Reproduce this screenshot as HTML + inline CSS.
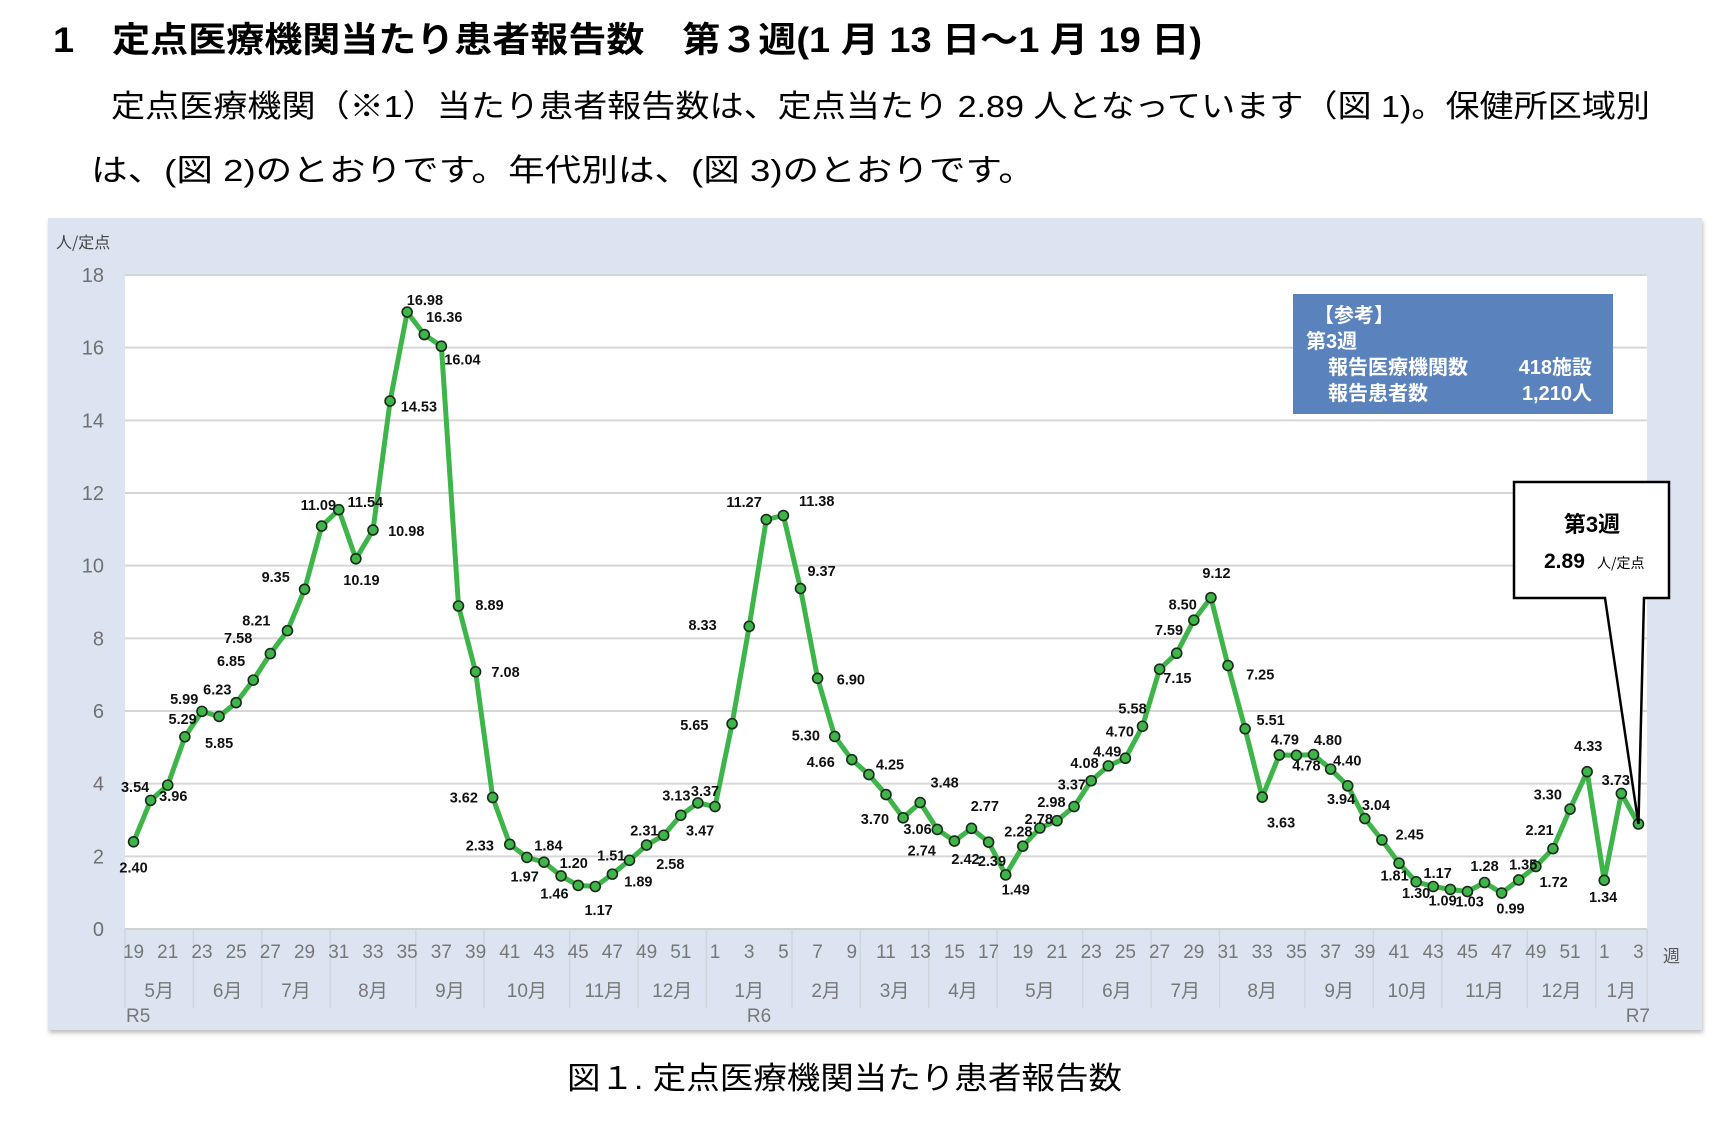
<!DOCTYPE html>
<html><head><meta charset="utf-8">
<style>
html,body{margin:0;padding:0;background:#fff;width:1736px;height:1126px;overflow:hidden;}
body{font-family:"Liberation Sans","Noto Sans CJK JP",sans-serif;}
</style></head><body>
<svg id="c" width="1736" height="1126" style="position:absolute;left:0;top:0" xmlns="http://www.w3.org/2000/svg"></svg>
<script>
var vals=[[2.40,0,23],[3.54,-14,-12],[3.96,5,10],[5.29,-2,-16],[5.99,-16,-11],[5.85,0,24],[6.23,-17,-12],[6.85,-20,-17],[7.58,-29,-14],[8.21,-28,-9],[9.35,-26,-11],[11.09,-3,-19],[11.54,24,-7],[10.19,5,19],[10.98,30,1],[14.53,26,5],[16.98,16,-11],[16.36,18,-16],[16.04,19,12],[8.89,28,-1],[7.08,27,0],[3.62,-26,0],[2.33,-27,1],[1.97,-2,17],[1.84,4,-15],[1.46,-6,16],[1.20,-4,-20],[1.17,3,21],[1.51,-1,-17],[1.89,8,19],[2.31,-2,-13],[2.58,6,26],[3.13,-4,-18],[3.47,2,25],
[3.37,-9,-14],[5.65,-34,1],[8.33,-42,-1],[11.27,-20,-16],[11.38,30,-13],[9.37,19,-16],[6.90,30,1],[5.30,-26,-1],[4.66,-28,2],[4.25,19,-9],[3.70,-10,22],[3.06,13,10],[3.48,22,-18],[2.74,-14,19],[2.42,10,16],[2.77,12,-20],[2.39,3,17],[1.49,9,13],[2.28,-4,-13],[2.78,-1,-8],[2.98,-5,-17],[3.37,-2,-20],[4.08,-6,-16],[4.49,-1,-13],[4.70,-5,-24],[5.58,-9,-16],[7.15,16,8],[7.59,-7,-21],[8.50,-10,-14],[9.12,5,-22],[7.25,29,8],[5.51,23,-8],[3.63,17,23],[4.79,5,-14],[4.78,9,9],[4.80,13,-13],[4.40,15,-8],[3.94,-6,12],[3.04,10,-12],[2.45,25,-5],[1.81,-4,11],[1.30,0,10],[1.17,4,-12],[1.09,-7,10],[1.03,2,9],[1.28,0,-15],[0.99,8,14],[1.35,4,-14],[1.72,16,14],[2.21,-12,-17],[3.30,-20,-13],[4.33,1,-23],
[1.34,-1,15],[3.73,-5,-12],[2.89,null,null]];
var L=125,R=1647,T=275,B=929,N=89,W=(R-L)/N;
function X(i){return L+W*(i+0.5);}function Y(v){return B-(B-T)*v/18;}
var J='font-family="Liberation Sans,Noto Sans CJK JP,sans-serif"';
var s='';
s+='<text x="53" y="52" font-size="35" font-weight="bold" '+J+' textLength="1149" lengthAdjust="spacingAndGlyphs">1　定点医療機関当たり患者報告数　第３週(1 月 13 日～1 月 19 日)</text>';
s+='<text x="111" y="117" font-size="31" '+J+' textLength="1539" lengthAdjust="spacingAndGlyphs">定点医療機関（※1）当たり患者報告数は、定点当たり 2.89 人となっています（図 1)。保健所区域別</text>';
s+='<text x="91" y="181" font-size="31" '+J+' textLength="944" lengthAdjust="spacingAndGlyphs">は、(図 2)のとおりです。年代別は、(図 3)のとおりです。</text>';
s+='<text x="567" y="1089" font-size="31" '+J+' textLength="555" lengthAdjust="spacingAndGlyphs">図１. 定点医療機関当たり患者報告数</text>';
s+='<defs><filter id="sh" x="-2%" y="-2%" width="104%" height="106%"><feDropShadow dx="1" dy="3" stdDeviation="2" flood-color="#000" flood-opacity="0.25"/></filter></defs>';
s+='<rect x="48" y="218" width="1654" height="812" fill="#dde4f1" filter="url(#sh)"/>';
s+='<rect x="'+L+'" y="'+T+'" width="'+(R-L)+'" height="'+(B-T)+'" fill="#fff"/>';
for(var g=0;g<=18;g+=2){var y=Y(g);s+='<line x1="'+L+'" x2="'+R+'" y1="'+y+'" y2="'+y+'" stroke="#d6d6d6" stroke-width="2"/>';
s+='<text x="104" y="'+(y+7)+'" font-size="20" fill="#707070" text-anchor="end">'+g+'</text>';}
s+='<text x="56" y="248" font-size="16" fill="#444" font-family="Noto Sans CJK JP,sans-serif">人/定点</text>';
var seps=[0,4,8,12,17,21,26,30,34,39,43,47,51,56,60,64,69,73,77,82,86,89];
var mons=['5月','6月','7月','8月','9月','10月','11月','12月','1月','2月','3月','4月','5月','6月','7月','8月','9月','10月','11月','12月','1月'];
for(var k=0;k<seps.length;k++){var x=L+W*seps[k];s+='<line x1="'+x+'" x2="'+x+'" y1="'+B+'" y2="1008" stroke="#d0d4dc" stroke-width="1.5"/>';
if(k<mons.length){var cx=L+W*(seps[k]+seps[k+1])/2;s+='<text x="'+cx+'" y="997" font-size="19" fill="#777" text-anchor="middle" '+J+'>'+mons[k]+'</text>';}}
for(var i=0;i<N;i++){var wk=i<34?i+19:(i<86?i-33:i-85);if(wk%2==1){s+='<text x="'+X(i)+'" y="958" font-size="19" fill="#777" text-anchor="middle">'+wk+'</text>';}}
s+='<text x="126" y="1022" font-size="19" fill="#777">R5</text><text x="759" y="1022" font-size="19" fill="#777" text-anchor="middle">R6</text><text x="1650" y="1022" font-size="19" fill="#777" text-anchor="end">R7</text>';
s+='<text x="1663" y="962" font-size="17" fill="#555" font-family="Noto Sans CJK JP,sans-serif">週</text>';
s+='<line x1="'+L+'" x2="'+R+'" y1="'+B+'" y2="'+B+'" stroke="#d0d0d0" stroke-width="2"/>';
s+='<line x1="'+L+'" x2="'+R+'" y1="'+T+'" y2="'+T+'" stroke="#d6d6d6" stroke-width="2"/>';
s+='<rect x="1293" y="294" width="320" height="120" fill="#5a82bd"/>';
var bf=J+' font-weight="bold" fill="#fff" font-size="20"';
s+='<text x="1314" y="322" '+bf+'>【参考】</text><text x="1306" y="348" '+bf+'>第3週</text>';
s+='<text x="1328" y="374" '+bf+'>報告医療機関数</text><text x="1592" y="374" '+bf+' text-anchor="end">418施設</text>';
s+='<text x="1328" y="400" '+bf+'>報告患者数</text><text x="1592" y="400" '+bf+' text-anchor="end">1,210人</text>';
var p='';for(var i=0;i<N;i++){p+=(i?'L':'M')+X(i).toFixed(1)+','+Y(vals[i][0]).toFixed(1);}
s+='<path d="'+p+'" fill="none" stroke="#3db549" stroke-width="5" stroke-linejoin="round"/>';
for(var i=0;i<N;i++){s+='<circle cx="'+X(i)+'" cy="'+Y(vals[i][0])+'" r="5" fill="#3db549" stroke="#1c2a1c" stroke-width="1.6"/>';}
for(var i=0;i<N;i++){var v=vals[i];if(v[1]===null)continue;s+='<text x="'+(X(i)+v[1]*1.11)+'" y="'+(Y(v[0])+v[2]*1.11+5)+'" font-size="14.5" font-weight="bold" fill="#111" text-anchor="middle">'+v[0].toFixed(2)+'</text>';}
var tx=X(88),ty=Y(2.89);
s+='<path d="M1514,482 L1669,482 L1669,598 L1644,598 L'+tx+','+ty+' L1605,598 L1514,598 Z" fill="#fff" stroke="#000" stroke-width="2.5"/>';
s+='<text x="1592" y="532" font-size="22" font-weight="bold" text-anchor="middle" '+J+'>第3週</text>';
s+='<text x="1544" y="568" font-size="21" font-weight="bold">2.89</text><text x="1597" y="568" font-size="14" font-family="Noto Sans CJK JP,sans-serif">人/定点</text>';
document.getElementById('c').innerHTML=s;
</script>
</body></html>
